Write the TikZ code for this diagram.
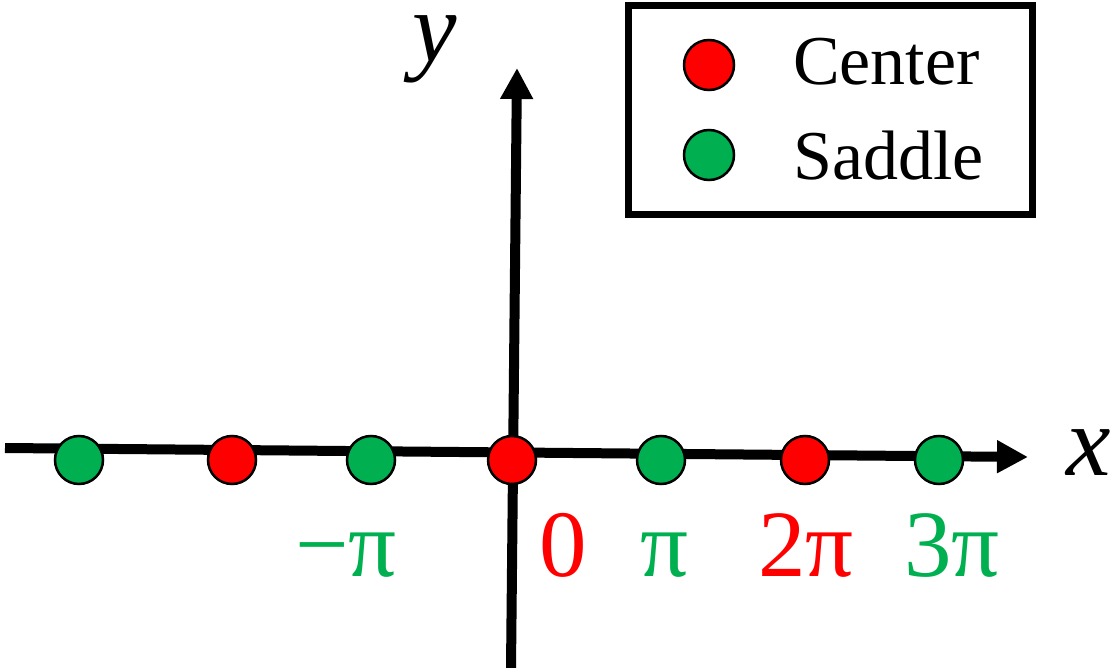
\documentclass[tikz,border=0pt]{standalone}
\usepackage{fontspec}
\usepackage{xcolor}
\usepackage{tikz}
\usetikzlibrary{arrows.meta}
\newfontfamily\labelfont{Liberation Serif}
\definecolor{saddlegreen}{RGB}{0,176,80}
\definecolor{centerred}{RGB}{255,0,0}

\begin{document}
\begin{tikzpicture}[x=1pt, y=-1pt,
  axis/.style={line width=10pt, -{Triangle[length=31pt,width=31pt]}},
  fixpt/.style={circle, draw=black, line width=2.5pt, minimum size=48pt, inner sep=0pt},
  centerpt/.style={fixpt, fill=centerred},
  saddlept/.style={fixpt, fill=saddlegreen},
  ticklbl/.style={font=\labelfont\fontsize{95}{95}\selectfont, anchor=base, inner sep=0pt},
  axislbl/.style={font=\labelfont\itshape\fontsize{100}{100}\selectfont, anchor=base, inner sep=0pt},
  keylbl/.style={font=\labelfont\fontsize{70}{72}\selectfont, anchor=base west, inner sep=0pt}]
\useasboundingbox (0,0) rectangle (1113,668);
% axes
\coordinate (xs) at (5,448);
\coordinate (xe) at (1028,457);
\coordinate (ys) at (511,668);
\coordinate (ye) at (517,68);
\draw[axis] (xs) -- (xe);
\draw[axis] (ys) -- (ye);
\node[axislbl] (xlbl) at (1089,475) {x};
\node[axislbl] (ylbl) at (435,62) {y};
% fixed points
\node[saddlept] (pt-2pi) at (79,460) {};
\node[centerpt] (pt-1pi) at (232,460) {};
\node[saddlept] (pt-pi) at (371,460) {};
\node[centerpt] (pt0) at (512,460) {};
\node[saddlept] (pt1) at (661,460) {};
\node[centerpt] (pt2) at (805,460) {};
\node[saddlept] (pt3) at (939,460) {};
\node[ticklbl, text=saddlegreen] (lbl-pi) at (346,576) {−π};
\node[ticklbl, text=centerred] (lbl0) at (563,576) {0};
\node[ticklbl, text=saddlegreen] (lbl1) at (664,576) {π};
\node[ticklbl, text=centerred] (lbl2) at (806,576) {2π};
\node[ticklbl, text=saddlegreen] (lbl3) at (952,576) {3π};
% legend
\node[draw, line width=7pt, minimum width=404pt, minimum height=209pt, inner sep=0pt] (legend) at (830,110.5) {};
\node[centerpt, minimum size=50pt] (keyc) at (709,65) {};
\node[saddlept, minimum size=50pt] (keys) at (709,155) {};
\node[keylbl] (keyctxt) at (793,85) {Center};
\node[keylbl] (keystxt) at (793,180) {Saddle};
\end{tikzpicture}
\end{document}
